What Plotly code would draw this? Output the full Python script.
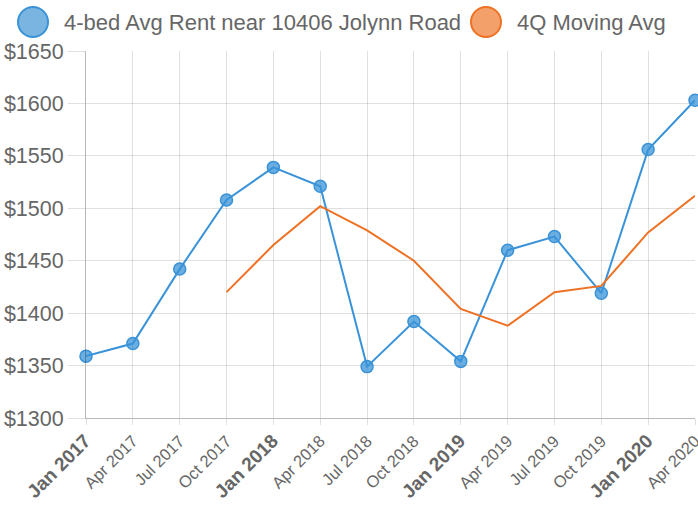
import plotly.graph_objects as go

quarters = ["Jan 2017", "Apr 2017", "Jul 2017", "Oct 2017",
            "Jan 2018", "Apr 2018", "Jul 2018", "Oct 2018",
            "Jan 2019", "Apr 2019", "Jul 2019", "Oct 2019",
            "Jan 2020", "Apr 2020"]
rent = [1359, 1371, 1442, 1508, 1539, 1521, 1349, 1392, 1354, 1460, 1473, 1419, 1556, 1603]
moving_avg = [None, None, None, 1420, 1465, 1502, 1479, 1450, 1404, 1388, 1420, 1426, 1477, 1512]
y_ticks = [1300, 1350, 1400, 1450, 1500, 1550, 1600, 1650]
series_names = ["4-bed Avg Rent near 10406 Jolynn Road", "4Q Moving Avg"]

BLUE = "#3a93d8"
ORANGE = "#ee7124"
GRID = "rgba(0,0,0,0.12)"
AXIS = "rgba(0,0,0,0.28)"
TXT = "#666666"

L, R, T, B = 86, 3, 51, 91
W, H = 698, 509
PW, PH = W - L - R, H - T - B

def tick_label(q):
    if q.startswith("Jan"):
        return "<b><span style='font-size:19px'>%s</span></b>" % q
    return q

fig = go.Figure()
fig.add_trace(go.Scatter(
    x=quarters, y=rent, mode="lines+markers", name=series_names[0],
    line=dict(color=BLUE, width=2),
    marker=dict(size=12, color="rgba(58,147,216,0.75)", line=dict(color=BLUE, width=1.5)),
    cliponaxis=False, showlegend=False))
fig.add_trace(go.Scatter(
    x=quarters, y=moving_avg, mode="lines", name=series_names[1],
    line=dict(color=ORANGE, width=2), connectgaps=False,
    cliponaxis=False, showlegend=False))

# legend drawn manually (large circle swatches)
legend_items = [
    (33, "rgba(122,180,224,1)", BLUE, 63, series_names[0]),
    (486, "rgba(244,160,106,1)", ORANGE, 516, series_names[1]),
]
ly = 1 + (T - 22) / PH
for cx, fill, border, tx, label in legend_items:
    fig.add_shape(type="circle", xref="paper", yref="paper",
                  xsizemode="pixel", ysizemode="pixel",
                  xanchor=(cx - L) / PW, yanchor=ly,
                  x0=-15, x1=15, y0=-15, y1=15,
                  fillcolor=fill, line=dict(color=border, width=2))
    fig.add_annotation(xref="paper", yref="paper", x=(tx - L) / PW, y=ly,
                       xanchor="left", yanchor="middle", showarrow=False,
                       borderpad=0, text=label, font=dict(size=22, color=TXT))

fig.update_layout(
    width=W, height=H,
    margin=dict(l=L, r=R, t=T, b=B, autoexpand=False),
    paper_bgcolor="white", plot_bgcolor="white",
    font=dict(family="Liberation Sans, Arial, sans-serif", color=TXT),
    showlegend=False,
)
fig.update_xaxes(
    type="category", range=[0, len(quarters) - 1], automargin=False,
    tickvals=quarters, ticktext=[tick_label(q) for q in quarters],
    tickangle=-45, tickfont=dict(size=16.5, color=TXT),
    showgrid=True, gridcolor=GRID, gridwidth=1,
    showline=True, linecolor=AXIS, linewidth=1,
    ticks="outside", ticklen=6, tickcolor=GRID, zeroline=False)
fig.update_yaxes(
    range=[1300, 1650], tickvals=y_ticks, ticktext=["$%d" % v for v in y_ticks],
    tickfont=dict(size=21.5, color=TXT), automargin=False,
    showgrid=True, gridcolor=GRID, gridwidth=1,
    showline=True, linecolor=AXIS, linewidth=1,
    ticks="outside", ticklen=17, tickcolor=GRID, zeroline=False)

fig.write_html("out.html", config={"displayModeBar": False},
               post_script="document.body.style.margin='0';document.body.style.padding='0';")
